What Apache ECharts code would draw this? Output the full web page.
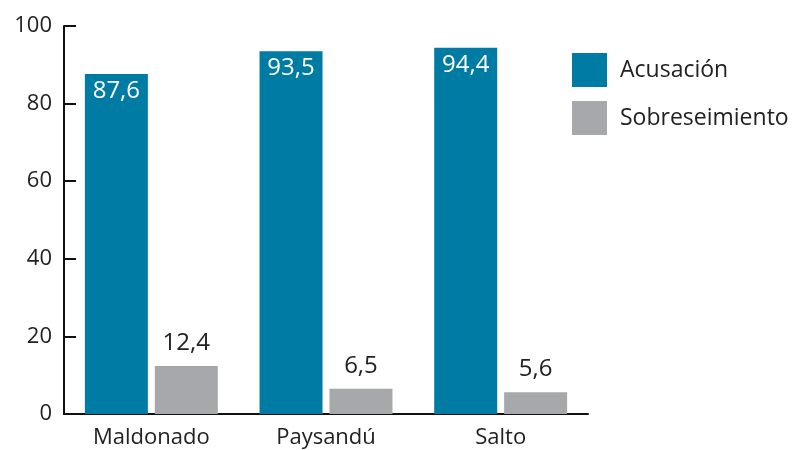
<!DOCTYPE html>
<html>
<head>
	<meta charset="utf-8">
	<script src="https://cdn.jsdelivr.net/npm/echarts@6/dist/echarts.min.js"></script>
	<title>Acusación / Sobreseimiento</title>
</head>
<body>
<style>
	html, body { margin: 0; background: #fff; }
	#main { width: 801px; height: 450px; }
</style>
<div id="main"></div>
<script type="text/javascript">
    // datos
    var categorias = ['Maldonado', 'Paysandú', 'Salto'];
    var acusacion = [87.6, 93.5, 94.4];
    var sobreseimiento = [12.4, 6.5, 5.6];
    var ticksY = [0, 20, 40, 60, 80, 100];

    var fuente = 'Open Sans';
    var coma = function (p) { return String(p.value).replace('.', ','); };

    var myChart = echarts.init(document.getElementById('main'));

    var option = {
        textStyle: { fontFamily: fuente },
        animation: false,
        legend: {
            orient: 'vertical',
            left: 572,
            top: 53,
            padding: 0,
            itemWidth: 35,
            itemHeight: 34,
            itemGap: 14,
            icon: 'rect',
            textStyle: { fontSize: 23, color: '#222', fontFamily: fuente, padding: [8, 0, 0, 8] },
            data: ['Acusación', 'Sobreseimiento']
        },
        grid: { left: 64, right: 213, top: 26, bottom: 36, containLabel: false },
        xAxis: {
            type: 'category',
            data: categorias,
            axisLine: { lineStyle: { color: '#111', width: 2 } },
            axisTick: { show: false },
            axisLabel: { fontSize: 22, color: '#222', margin: 13, fontFamily: fuente }
        },
        yAxis: {
            type: 'value',
            min: ticksY[0],
            max: ticksY[ticksY.length - 1],
            interval: 20,
            splitLine: { show: false },
            axisLine: { show: true, lineStyle: { color: '#111', width: 2 } },
            axisTick: { show: true, inside: true, length: 12, lineStyle: { color: '#111', width: 2 } },
            axisLabel: { fontSize: 22, color: '#222', margin: 12, fontFamily: fuente }
        },
        series: [
            {
                name: 'Acusación',
                type: 'bar',
                data: acusacion,
                barWidth: 63,
                barGap: '11%',
                itemStyle: { color: '#007ba4' },
                label: {
                    show: true,
                    position: 'insideTop',
                    distance: 5,
                    color: '#fff',
                    fontSize: 24,
                    fontFamily: fuente,
                    formatter: coma
                }
            },
            {
                name: 'Sobreseimiento',
                type: 'bar',
                data: sobreseimiento,
                barWidth: 63,
                itemStyle: { color: '#a7a8ab' },
                label: {
                    show: true,
                    position: 'top',
                    distance: 11,
                    color: '#222',
                    fontSize: 24,
                    fontFamily: fuente,
                    formatter: coma
                }
            }
        ]
    };

    myChart.setOption(option);
</script>
</body>
</html>
